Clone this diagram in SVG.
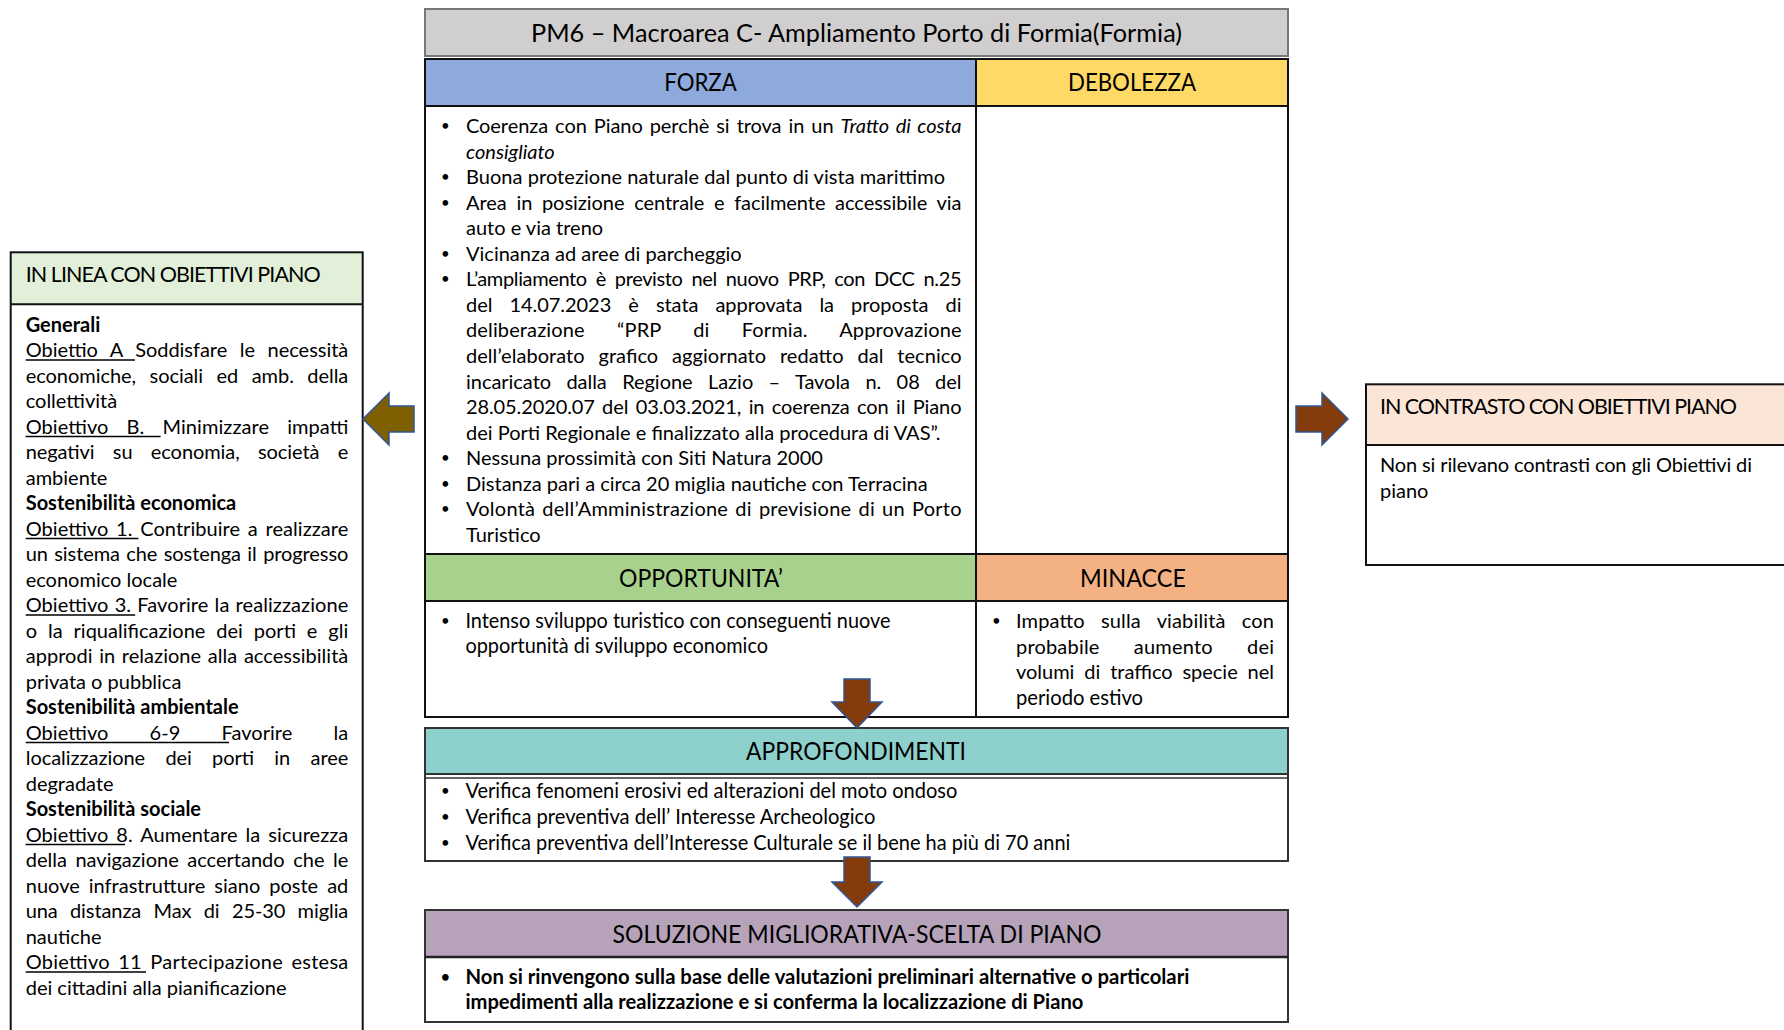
<svg xmlns="http://www.w3.org/2000/svg" width="1784" height="1030" viewBox="0 0 1784 1030">
<style>
text{font-family:Lato,"Liberation Sans",sans-serif;fill:#000}
.h{font-size:25px}
.hs{font-size:21.5px}
.b{font-size:20px}
.bu{font-size:15px}
.c{font-size:21.5px}
.cb{font-size:21.5px;font-weight:bold}
.bd{font-weight:bold}
.it{font-style:italic}
.box{fill:none;stroke:#111;stroke-width:2}
.ln{stroke:#111;stroke-width:2}
.ul{stroke:#000;stroke-width:1.3}
.arr{stroke:#2F5597;stroke-width:1.5}
</style>

<g id="title">
<rect x="425" y="9" width="863" height="47" fill="#D0CECE" stroke="#777" stroke-width="2"/>
<text class="h" x="856.5" y="41.5" text-anchor="middle" textLength="651" lengthAdjust="spacingAndGlyphs">PM6 – Macroarea C- Ampliamento Porto di Formia(Formia)</text>
</g>

<g id="swot">
<rect x="425" y="59" width="551" height="47" fill="#8EA9DB"/>
<rect x="976" y="59" width="312" height="47" fill="#FFD966"/>
<rect x="425" y="554" width="551" height="47" fill="#A9D18E"/>
<rect x="976" y="554" width="312" height="47" fill="#F4B183"/>
<rect class="box" x="425" y="59" width="863" height="658"/>
<line class="ln" x1="976" y1="59" x2="976" y2="717"/>
<line class="ln" x1="425" y1="106" x2="1288" y2="106"/>
<line class="ln" x1="425" y1="554" x2="1288" y2="554"/>
<line class="ln" x1="425" y1="601" x2="1288" y2="601"/>
</g>

<g id="forza">
<text class="h" x="700.5" y="91" text-anchor="middle" textLength="72.5" lengthAdjust="spacingAndGlyphs">FORZA</text>
<text class="bu" x="441" y="131">•</text>
<text class="bu" x="441" y="182.1">•</text>
<text class="bu" x="441" y="207.7">•</text>
<text class="bu" x="441" y="258.8">•</text>
<text class="bu" x="441" y="284.3">•</text>
<text class="bu" x="441" y="463.2">•</text>
<text class="bu" x="441" y="488.7">•</text>
<text class="bu" x="441" y="514.3">•</text>
<text class="b" x="466" y="133" textLength="495.5" lengthAdjust="spacing" style="word-spacing:2px">Coerenza con Piano perchè si trova in un <tspan class="it">Tratto di costa</tspan></text>
<text class="b it" x="466" y="158.6">consigliato</text>
<text class="b" x="466" y="184.1" textLength="479" lengthAdjust="spacing">Buona protezione naturale dal punto di vista marittimo</text>
<text class="b" x="466" y="209.7" textLength="495.5" lengthAdjust="spacing" style="word-spacing:4.6px">Area in posizione centrale e facilmente accessibile via</text>
<text class="b" x="466" y="235.2">auto e via treno</text>
<text class="b" x="466" y="260.8">Vicinanza ad aree di parcheggio</text>
<text class="b" x="466" y="286.3" textLength="495.5" lengthAdjust="spacing" style="word-spacing:4.2px">L’ampliamento è previsto nel nuovo PRP, con DCC n.25</text>
<text class="b" x="466" y="311.9" textLength="495.5" lengthAdjust="spacing" style="word-spacing:12px">del 14.07.2023 è stata approvata la proposta di</text>
<text class="b" x="466" y="337.4" textLength="495.5" lengthAdjust="spacing" style="word-spacing:27px">deliberazione “PRP di Formia. Approvazione</text>
<text class="b" x="466" y="363" textLength="495.5" lengthAdjust="spacing" style="word-spacing:8.7px">dell’elaborato grafico aggiornato redatto dal tecnico</text>
<text class="b" x="466" y="388.5" textLength="495.5" lengthAdjust="spacing" style="word-spacing:10.3px">incaricato dalla Regione Lazio – Tavola n. 08 del</text>
<text class="b" x="466" y="414.1" textLength="495.5" lengthAdjust="spacing" style="word-spacing:2.4px">28.05.2020.07 del 03.03.2021, in coerenza con il Piano</text>
<text class="b" x="466" y="439.6">dei Porti Regionale e finalizzato alla procedura di VAS”.</text>
<text class="b" x="466" y="465.2">Nessuna prossimità con Siti Natura 2000</text>
<text class="b" x="466" y="490.7">Distanza pari a circa 20 miglia nautiche con Terracina</text>
<text class="b" x="466" y="516.3" textLength="495.5" lengthAdjust="spacing" style="word-spacing:1.8px">Volontà dell’Amministrazione di previsione di un Porto</text>
<text class="b" x="466" y="541.8">Turistico</text>
</g>

<g id="debolezza">
<text class="h" x="1132" y="91" text-anchor="middle" textLength="128" lengthAdjust="spacingAndGlyphs">DEBOLEZZA</text>
</g>

<g id="opportunita">
<text class="h" x="701" y="587" text-anchor="middle" textLength="164" lengthAdjust="spacingAndGlyphs">OPPORTUNITA’</text>
<text class="bu" x="441" y="626">•</text>
<text class="c" x="465.4" y="628" textLength="425" lengthAdjust="spacingAndGlyphs">Intenso sviluppo turistico con conseguenti nuove</text>
<text class="c" x="465.4" y="653" textLength="302.6" lengthAdjust="spacingAndGlyphs">opportunità di sviluppo economico</text>
</g>

<g id="minacce">
<text class="h" x="1133" y="587" text-anchor="middle" textLength="106" lengthAdjust="spacingAndGlyphs">MINACCE</text>
<text class="bu" x="992" y="626">•</text>
<text class="b" x="1016" y="628" textLength="258" lengthAdjust="spacing" style="word-spacing:11px">Impatto sulla viabilità con</text>
<text class="b" x="1016" y="653.5" textLength="258" lengthAdjust="spacing" style="word-spacing:29px">probabile aumento dei</text>
<text class="b" x="1016" y="679" textLength="258" lengthAdjust="spacing" style="word-spacing:4.8px">volumi di traffico specie nel</text>
<text class="c" x="1016" y="704.5" textLength="127" lengthAdjust="spacingAndGlyphs">periodo estivo</text>
</g>

<g id="approfondimenti">
<rect x="425" y="728" width="863" height="46" fill="#8DD0CC"/>
<rect x="425" y="728" width="863" height="133" fill="none" stroke="#333" stroke-width="2"/>
<line x1="425" y1="774" x2="1288" y2="774" stroke="#333" stroke-width="2"/>
<line x1="425" y1="778" x2="1288" y2="778" stroke="#333" stroke-width="1.5"/>
<text class="h" x="856" y="760" text-anchor="middle" textLength="220" lengthAdjust="spacingAndGlyphs">APPROFONDIMENTI</text>
<text class="bu" x="441" y="796">•</text>
<text class="bu" x="441" y="822">•</text>
<text class="bu" x="441" y="848">•</text>
<text class="c" x="465.4" y="798" textLength="492" lengthAdjust="spacingAndGlyphs">Verifica fenomeni erosivi ed alterazioni del moto ondoso</text>
<text class="c" x="465.4" y="824" textLength="410" lengthAdjust="spacingAndGlyphs">Verifica preventiva dell’ Interesse Archeologico</text>
<text class="c" x="465.4" y="850" textLength="605" lengthAdjust="spacingAndGlyphs">Verifica preventiva dell’Interesse Culturale se il bene ha più di 70 anni</text>
</g>

<g id="soluzione">
<rect x="425" y="910" width="863" height="47" fill="#B7A3B9"/>
<rect x="425" y="910" width="863" height="112" fill="none" stroke="#333" stroke-width="2"/>
<line x1="425" y1="957" x2="1288" y2="957" stroke="#222" stroke-width="2.5"/>
<text class="h" x="857" y="942.5" text-anchor="middle" textLength="489" lengthAdjust="spacingAndGlyphs">SOLUZIONE MIGLIORATIVA-SCELTA DI PIANO</text>
<text class="bu bd" x="441" y="981.5">•</text>
<text class="cb" x="465.4" y="983.5" textLength="724" lengthAdjust="spacingAndGlyphs">Non si rinvengono sulla base delle valutazioni preliminari alternative o particolari</text>
<text class="cb" x="465.4" y="1008.5" textLength="618" lengthAdjust="spacingAndGlyphs">impedimenti alla realizzazione e si conferma la localizzazione di Piano</text>
</g>

<g id="in-linea">
<rect x="10.7" y="252.3" width="352" height="52" fill="#E2F0D9"/>
<rect class="box" x="10.7" y="252.3" width="352" height="800"/>
<line class="ln" x1="10.7" y1="304.3" x2="362.7" y2="304.3"/>
<text class="hs" x="25.7" y="281.7" textLength="295" lengthAdjust="spacing">IN LINEA CON OBIETTIVI PIANO</text>
<text class="b bd" x="25.7" y="331.7">Generali</text>
<text class="b" x="25.7" y="357.2" textLength="322.6" lengthAdjust="spacing" style="word-spacing:7.5px">Obiettio A Soddisfare le necessità</text>
<text class="b" x="25.7" y="382.7" textLength="322.6" lengthAdjust="spacing" style="word-spacing:8.4px">economiche, sociali ed amb. della</text>
<text class="b" x="25.7" y="408.2">collettività</text>
<text class="b" x="25.7" y="433.7" textLength="322.6" lengthAdjust="spacing" style="word-spacing:13px">Obiettivo B. Minimizzare impatti</text>
<text class="b" x="25.7" y="459.2" textLength="322.6" lengthAdjust="spacing" style="word-spacing:13.3px">negativi su economia, società e</text>
<text class="b" x="25.7" y="484.7">ambiente</text>
<text class="b bd" x="25.7" y="510.2">Sostenibilità economica</text>
<text class="b" x="25.7" y="535.7" textLength="322.6" lengthAdjust="spacing" style="word-spacing:2.6px">Obiettivo 1. Contribuire a realizzare</text>
<text class="b" x="25.7" y="561.2" textLength="322.6" lengthAdjust="spacing" style="word-spacing:1.4px">un sistema che sostenga il progresso</text>
<text class="b" x="25.7" y="586.7">economico locale</text>
<text class="b" x="25.7" y="612.2" textLength="322.6" lengthAdjust="spacing" style="word-spacing:1px">Obiettivo 3. Favorire la realizzazione</text>
<text class="b" x="25.7" y="637.7" textLength="322.6" lengthAdjust="spacing" style="word-spacing:5.8px">o la riqualificazione dei porti e gli</text>
<text class="b" x="25.7" y="663.2" textLength="322.6" lengthAdjust="spacing" style="word-spacing:1.5px">approdi in relazione alla accessibilità</text>
<text class="b" x="25.7" y="688.7">privata o pubblica</text>
<text class="b bd" x="25.7" y="714.2">Sostenibilità ambientale</text>
<text class="b" x="25.7" y="739.7" textLength="322.6" lengthAdjust="spacing" style="word-spacing:36px">Obiettivo 6-9 Favorire la</text>
<text class="b" x="25.7" y="765.2" textLength="322.6" lengthAdjust="spacing" style="word-spacing:15.2px">localizzazione dei porti in aree</text>
<text class="b" x="25.7" y="790.7">degradate</text>
<text class="b bd" x="25.7" y="816.2">Sostenibilità sociale</text>
<text class="b" x="25.7" y="841.7" textLength="322.6" lengthAdjust="spacing" style="word-spacing:2.9px">Obiettivo 8. Aumentare la sicurezza</text>
<text class="b" x="25.7" y="867.2" textLength="322.6" lengthAdjust="spacing" style="word-spacing:3.4px">della navigazione accertando che le</text>
<text class="b" x="25.7" y="892.7" textLength="322.6" lengthAdjust="spacing" style="word-spacing:3.8px">nuove infrastrutture siano poste ad</text>
<text class="b" x="25.7" y="918.2" textLength="322.6" lengthAdjust="spacing" style="word-spacing:7.3px">una distanza Max di 25-30 miglia</text>
<text class="b" x="25.7" y="943.7">nautiche</text>
<text class="b" x="25.7" y="969.2" textLength="322.6" lengthAdjust="spacing" style="word-spacing:2.9px">Obiettivo 11 Partecipazione estesa</text>
<text class="b" x="25.7" y="994.7">dei cittadini alla pianificazione</text>
<line class="ul" x1="25.7" y1="360" x2="135" y2="360"/>
<line class="ul" x1="25.7" y1="436.5" x2="160.6" y2="436.5"/>
<line class="ul" x1="25.7" y1="538.5" x2="138.4" y2="538.5"/>
<line class="ul" x1="25.7" y1="615" x2="135.2" y2="615"/>
<line class="ul" x1="25.7" y1="742.5" x2="229" y2="742.5"/>
<line class="ul" x1="25.7" y1="844.5" x2="125" y2="844.5"/>
<line class="ul" x1="25.7" y1="972" x2="146" y2="972"/>
</g>

<g id="in-contrasto">
<rect x="1366" y="384.3" width="430" height="60.7" fill="#FBE5D6"/>
<rect class="box" x="1366" y="384.3" width="430" height="180.7"/>
<line class="ln" x1="1366" y1="445" x2="1784" y2="445"/>
<text class="hs" x="1380" y="414" textLength="357" lengthAdjust="spacing">IN CONTRASTO CON OBIETTIVI PIANO</text>
<text class="b" x="1380" y="471.5" textLength="372" lengthAdjust="spacing">Non si rilevano contrasti con gli Obiettivi di</text>
<text class="b" x="1380" y="497.5">piano</text>
</g>

<g id="connectors">
<path class="arr" fill="#7F6000" d="M414,406 H389 V393 L363,419 L389,445 V432 H414 Z"/>
<path class="arr" fill="#843C0C" d="M1296,406 H1322 V393 L1348,419 L1322,445 V432 H1296 Z"/>
<path class="arr" fill="#843C0C" d="M844,679 H870 V702 H882 L857,728 L832,702 H844 Z"/>
<path class="arr" fill="#843C0C" d="M844,857 H870 V882 H882 L857,907 L832,882 H844 Z"/>
</g>
</svg>
